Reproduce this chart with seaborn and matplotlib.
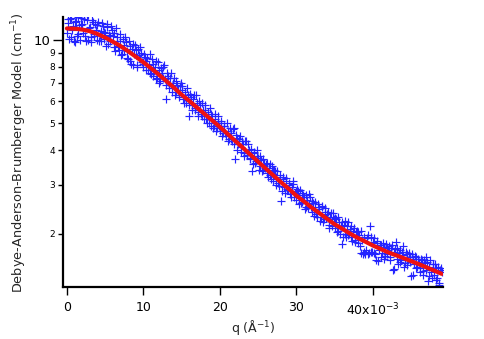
import numpy as np
import pandas as pd
import matplotlib
matplotlib.use("Agg")
import matplotlib.pyplot as plt
import seaborn as sns
from matplotlib.ticker import FixedLocator, FixedFormatter, NullLocator

# ---- data (q in units of 1e-3 A^-1) ----
q_data_a_milli = [
    0.0, 0.2, 0.4, 0.6, 0.8, 1.0, 1.2, 1.4, 1.6, 1.8, 2.0, 2.2, 2.4, 2.6, 2.8,
    3.0, 3.2, 3.4, 3.6, 3.8, 4.0, 4.2, 4.4, 4.6, 4.8, 5.0, 5.2, 5.4, 5.6, 5.8,
    6.0, 6.2, 6.4, 6.6, 6.8, 7.0, 7.2, 7.4, 7.6, 7.8, 8.0, 8.2, 8.4, 8.6, 8.8,
    9.0, 9.2, 9.4, 9.6, 9.8, 10.0, 10.2, 10.4, 10.6, 10.8, 11.0, 11.2, 11.4, 11.6, 11.8,
    12.0, 12.2, 12.4, 12.6, 12.8, 13.0, 13.2, 13.4, 13.6, 13.8, 14.0, 14.2, 14.4, 14.6, 14.8,
    15.0, 15.2, 15.4, 15.6, 15.8, 16.0, 16.2, 16.4, 16.6, 16.8, 17.0, 17.2, 17.4, 17.6, 17.8,
    18.0, 18.2, 18.4, 18.6, 18.8, 19.0, 19.2, 19.4, 19.6, 19.8, 20.0, 20.2, 20.4, 20.6, 20.8,
    21.0, 21.2, 21.4, 21.6, 21.8, 22.0, 22.2, 22.4, 22.6, 22.8, 23.0, 23.2, 23.4, 23.6, 23.8,
    24.0, 24.2, 24.4, 24.6, 24.8, 25.0, 25.2, 25.4, 25.6, 25.8, 26.0, 26.2, 26.4, 26.6, 26.8,
    27.0, 27.2, 27.4, 27.6, 27.8, 28.0, 28.2, 28.4, 28.6, 28.8, 29.0, 29.2, 29.4, 29.6, 29.8,
    30.0, 30.2, 30.4, 30.6, 30.8, 31.0, 31.2, 31.4, 31.6, 31.8, 32.0, 32.2, 32.4, 32.6, 32.8,
    33.0, 33.2, 33.4, 33.6, 33.8, 34.0, 34.2, 34.4, 34.6, 34.8, 35.0, 35.2, 35.4, 35.6, 35.8,
    36.0, 36.2, 36.4, 36.6, 36.8, 37.0, 37.2, 37.4, 37.6, 37.8, 38.0, 38.2, 38.4, 38.6, 38.8,
    39.0, 39.2, 39.4, 39.6, 39.8, 40.0, 40.2, 40.4, 40.6, 40.8, 41.0, 41.2, 41.4, 41.6, 41.8,
    42.0, 42.2, 42.4, 42.6, 42.8, 43.0, 43.2, 43.4, 43.6, 43.8, 44.0, 44.2, 44.4, 44.6, 44.8,
    45.0, 45.2, 45.4, 45.6, 45.8, 46.0, 46.2, 46.4, 46.6, 46.8, 47.0, 47.2, 47.4, 47.6, 47.8,
    48.0, 48.2, 48.4, 48.6, 48.8, 49.0,
]
intensity_data_a = [
    10.6, 11.5, 11.9, 10.2, 11.2, 9.8, 11.7, 10.5, 11.3, 12.0,
    11.4, 12.2, 10.3, 11.8, 10.0, 11.1, 10.2, 11.6, 10.5, 10.9,
    11.3, 9.9, 10.8, 11.5, 10.1, 10.6, 11.4, 9.7, 10.3, 11.2,
    10.3, 9.4, 11.0, 9.9, 9.2, 9.9, 8.9, 9.6, 10.2, 9.1,
    8.5, 9.5, 8.2, 9.7, 8.9, 9.2, 8.1, 8.8, 9.4, 8.3,
    8.0, 8.7, 8.4, 7.8, 8.9, 7.5, 8.2, 7.7, 8.4, 7.3,
    7.8, 7.1, 7.6, 8.0, 7.2, 6.1, 7.4, 6.9, 7.6, 6.8,
    7.3, 6.5, 6.9, 6.3, 6.8, 6.6, 6.1, 6.5, 5.9, 6.3,
    5.3, 6.2, 5.8, 6.3, 5.7, 5.9, 5.5, 5.8, 5.3, 5.6,
    5.6, 5.2, 5.5, 5.0, 5.4, 5.3, 4.9, 5.2, 4.8, 5.1,
    4.7, 5.0, 4.6, 4.9, 4.5, 4.7, 4.4, 4.6, 4.3, 4.8,
    3.73, 4.44, 4.2, 4.5, 4.1, 4.2, 3.9, 4.3, 3.85, 4.0,
    3.7, 3.37, 3.95, 3.6, 3.8, 3.75, 3.5, 3.68, 3.4, 3.55,
    3.55, 3.3, 3.45, 3.25, 3.5, 3.1, 3.35, 3.2, 3.05, 3.15,
    2.63, 3.15, 2.95, 3.1, 2.9, 3.0, 2.78, 2.95, 3.1, 2.8,
    2.65, 2.85, 2.7, 2.58, 2.8, 2.7, 2.5, 2.65, 2.55, 2.72,
    2.4, 2.58, 2.45, 2.35, 2.55, 2.45, 2.3, 2.5, 2.25, 2.4,
    2.35, 2.15, 2.3, 2.2, 2.38, 2.1, 2.25, 2.05, 2.2, 2.12,
    1.84, 2.15, 2.0, 2.12, 1.98, 2.08, 1.95, 2.05, 1.9, 2.02,
    1.85, 1.98, 1.70, 1.9, 1.72, 1.69, 1.92, 1.68, 2.12, 1.71,
    1.86, 1.70, 1.60, 1.85, 1.75, 1.82, 1.70, 1.79, 1.66, 1.78,
    1.75, 1.65, 1.78, 1.48, 1.72, 1.86, 1.62, 1.70, 1.58, 1.72,
    1.67, 1.56, 1.68, 1.60, 1.65, 1.41, 1.62, 1.55, 1.64, 1.52,
    1.58, 1.50, 1.60, 1.46, 1.56, 1.65, 1.35, 1.52, 1.45, 1.55,
    1.42, 1.50, 1.38, 1.32, 1.48, 1.45,
]

q_data_b_milli = [
    0.1, 0.3, 0.5, 0.7, 0.9, 1.1, 1.3, 1.5, 1.7, 1.9, 2.1, 2.3, 2.5, 2.7, 2.9,
    3.1, 3.3, 3.5, 3.7, 3.9, 4.1, 4.3, 4.5, 4.7, 4.9, 5.1, 5.3, 5.5, 5.7, 5.9,
    6.1, 6.3, 6.5, 6.7, 6.9, 7.1, 7.3, 7.5, 7.7, 7.9, 8.1, 8.3, 8.5, 8.7, 8.9,
    9.1, 9.3, 9.5, 9.7, 9.9, 10.1, 10.3, 10.5, 10.7, 10.9, 11.1, 11.3, 11.5, 11.7, 11.9,
    12.1, 12.3, 12.5, 12.7, 12.9, 13.1, 13.3, 13.5, 13.7, 13.9, 14.1, 14.3, 14.5, 14.7, 14.9,
    15.1, 15.3, 15.5, 15.7, 15.9, 16.1, 16.3, 16.5, 16.7, 16.9, 17.1, 17.3, 17.5, 17.7, 17.9,
    18.1, 18.3, 18.5, 18.7, 18.9, 19.1, 19.3, 19.5, 19.7, 19.9, 20.1, 20.3, 20.5, 20.7, 20.9,
    21.1, 21.3, 21.5, 21.7, 21.9, 22.1, 22.3, 22.5, 22.7, 22.9, 23.1, 23.3, 23.5, 23.7, 23.9,
    24.1, 24.3, 24.5, 24.7, 24.9, 25.1, 25.3, 25.5, 25.7, 25.9, 26.1, 26.3, 26.5, 26.7, 26.9,
    27.1, 27.3, 27.5, 27.7, 27.9, 28.1, 28.3, 28.5, 28.7, 28.9, 29.1, 29.3, 29.5, 29.7, 29.9,
    30.1, 30.3, 30.5, 30.7, 30.9, 31.1, 31.3, 31.5, 31.7, 31.9, 32.1, 32.3, 32.5, 32.7, 32.9,
    33.1, 33.3, 33.5, 33.7, 33.9, 34.1, 34.3, 34.5, 34.7, 34.9, 35.1, 35.3, 35.5, 35.7, 35.9,
    36.1, 36.3, 36.5, 36.7, 36.9, 37.1, 37.3, 37.5, 37.7, 37.9, 38.1, 38.3, 38.5, 38.7, 38.9,
    39.1, 39.3, 39.5, 39.7, 39.9, 40.1, 40.3, 40.5, 40.7, 40.9, 41.1, 41.3, 41.5, 41.7, 41.9,
    42.1, 42.3, 42.5, 42.7, 42.9, 43.1, 43.3, 43.5, 43.7, 43.9, 44.1, 44.3, 44.5, 44.7, 44.9,
    45.1, 45.3, 45.5, 45.7, 45.9, 46.1, 46.3, 46.5, 46.7, 46.9, 47.1, 47.3, 47.5, 47.7, 47.9,
    48.1, 48.3, 48.5, 48.7, 48.9,
]
intensity_data_b = [
    11.9, 10.1, 12.0, 10.9, 9.9, 11.6, 10.3, 12.1, 10.0, 11.3,
    10.6, 11.9, 9.9, 12.3, 11.0, 9.8, 11.8, 10.3, 11.4, 10.0,
    11.6, 10.4, 9.9, 11.2, 10.7, 9.5, 11.1, 10.4, 9.9, 10.9,
    10.6, 9.1, 10.2, 9.5, 10.5, 8.8, 10.1, 9.2, 9.8, 8.6,
    9.9, 8.4, 9.3, 8.1, 9.6, 8.0, 9.3, 8.5, 9.0, 8.2,
    8.9, 7.8, 8.6, 8.1, 7.6, 8.5, 7.4, 8.0, 7.2, 8.3,
    7.0, 7.9, 7.3, 8.1, 6.9, 7.6, 6.7, 7.3, 6.5, 7.0,
    6.3, 7.1, 6.6, 6.2, 7.0, 6.8, 5.9, 6.2, 6.7, 5.8,
    6.4, 5.6, 6.1, 5.6, 6.3, 5.3, 6.0, 5.4, 5.9, 5.2,
    5.8, 5.0, 5.3, 5.7, 4.9, 4.8, 5.4, 4.7, 5.3, 4.9,
    5.1, 4.5, 4.9, 4.6, 5.0, 4.3, 4.8, 4.4, 4.75, 4.2,
    4.55, 4.0, 4.4, 3.95, 4.3, 3.8, 4.3, 3.85, 4.2, 3.75,
    4.05, 3.55, 3.9, 3.65, 4.0, 3.4, 3.8, 3.35, 3.7, 3.45,
    3.6, 3.2, 3.55, 3.15, 3.4, 3.4, 3.0, 3.35, 2.98, 3.25,
    2.85, 3.2, 2.8, 3.18, 2.88, 3.05, 2.7, 3.02, 2.72, 2.85,
    2.9, 2.55, 2.88, 2.6, 2.75, 2.45, 2.75, 2.48, 2.78, 2.5,
    2.62, 2.32, 2.6, 2.3, 2.5, 2.22, 2.52, 2.2, 2.48, 2.28,
    2.4, 2.1, 2.38, 2.12, 2.25, 2.28, 2.02, 2.3, 2.0, 2.2,
    1.95, 2.22, 1.94, 2.2, 2.0, 2.12, 1.88, 2.1, 1.86, 2.05,
    2.02, 1.8, 2.05, 1.69, 1.95, 1.75, 1.98, 1.70, 1.95, 1.72,
    1.92, 1.68, 1.88, 1.59, 1.82, 1.65, 1.85, 1.62, 1.84, 1.68,
    1.80, 1.60, 1.82, 1.49, 1.76, 1.78, 1.55, 1.75, 1.60, 1.80,
    1.52, 1.72, 1.54, 1.70, 1.58, 1.68, 1.42, 1.66, 1.50, 1.62,
    1.45, 1.62, 1.42, 1.60, 1.48, 1.58, 1.40, 1.60, 1.38, 1.55,
    1.55, 1.36, 1.52, 1.30, 1.50,
]

q_fit_milli = [0, 1, 2, 3, 4, 5, 6, 7, 8, 9, 10, 11, 12, 13, 14, 15, 16, 17, 18, 19,
               20, 21, 22, 23, 24, 25, 26, 27, 28, 29, 30, 31, 32, 33, 34, 35, 36, 37, 38, 39,
               40, 41, 42, 43, 44, 45, 46, 47, 48, 49]
intensity_fit = [11.00, 10.97, 10.90, 10.75, 10.50, 10.20, 9.85, 9.50, 9.10, 8.70,
                 8.30, 7.90, 7.50, 7.10, 6.72, 6.34, 6.02, 5.70, 5.40, 5.12,
                 4.85, 4.58, 4.32, 4.08, 3.85, 3.63, 3.43, 3.24, 3.06, 2.90,
                 2.74, 2.61, 2.48, 2.37, 2.26, 2.16, 2.08, 2.00, 1.93, 1.87,
                 1.81, 1.76, 1.71, 1.67, 1.63, 1.59, 1.55, 1.51, 1.47, 1.43]

x_tick_values_milli = [0, 10, 20, 30, 40]
x_tick_labels = ["0", "10", "20", "30", "40x10$^{-3}$"]
y_major_ticks = [10]
y_minor_ticks = [2, 3, 4, 5, 6, 7, 8, 9]

df_data = pd.DataFrame({
    "q": np.array(q_data_a_milli + q_data_b_milli) * 1e-3,
    "I": intensity_data_a + intensity_data_b,
})
df_fit = pd.DataFrame({"q": np.array(q_fit_milli) * 1e-3, "I": intensity_fit})

sns.set_style("ticks")
plt.rcParams["font.family"] = ["DejaVu Sans"]

fig = plt.figure(figsize=(4.84, 3.39), dpi=100)
ax = fig.add_axes([0.130, 0.152, 0.785, 0.798])

sns.scatterplot(data=df_data, x="q", y="I", ax=ax, marker="+", color="#2424ff",
                s=30, linewidth=0.85, legend=False, zorder=2)
sns.lineplot(data=df_fit, x="q", y="I", ax=ax, color="#ee1111", linewidth=3.0,
             legend=False, zorder=3)

ax.set_yscale("log")
ax.set_xlim(-0.52e-3, 49.15e-3)
ax.set_ylim(1.277, 12.1)

ax.xaxis.set_major_locator(FixedLocator([v * 1e-3 for v in x_tick_values_milli]))
ax.set_xticklabels(x_tick_labels)
ax.xaxis.set_minor_locator(NullLocator())

ax.yaxis.set_major_locator(FixedLocator(y_major_ticks))
ax.set_yticklabels([str(v) for v in y_major_ticks])
ax.yaxis.set_minor_locator(FixedLocator(y_minor_ticks))
ax.yaxis.set_minor_formatter(FixedFormatter([str(v) for v in y_minor_ticks]))

for s in ["top", "right"]:
    ax.spines[s].set_visible(False)
for s in ["left", "bottom"]:
    ax.spines[s].set_linewidth(1.6)
    ax.spines[s].set_color("black")

ax.tick_params(axis="x", which="major", direction="out", length=6, width=1.0,
               labelsize=9, pad=4, colors="black")
ax.tick_params(axis="y", which="major", direction="out", length=7, width=1.0,
               labelsize=9.5, pad=2, colors="black")
ax.tick_params(axis="y", which="minor", direction="out", length=3.5, width=1.0,
               labelsize=6.5, pad=2, colors="black")

ax.set_xlabel("q (Å$^{-1}$)", fontsize=9, labelpad=0)
ax.set_ylabel("Debye-Anderson-Brumberger Model (cm$^{-1}$)", fontsize=9.3, labelpad=3)

fig.savefig("out.png", dpi=100)
